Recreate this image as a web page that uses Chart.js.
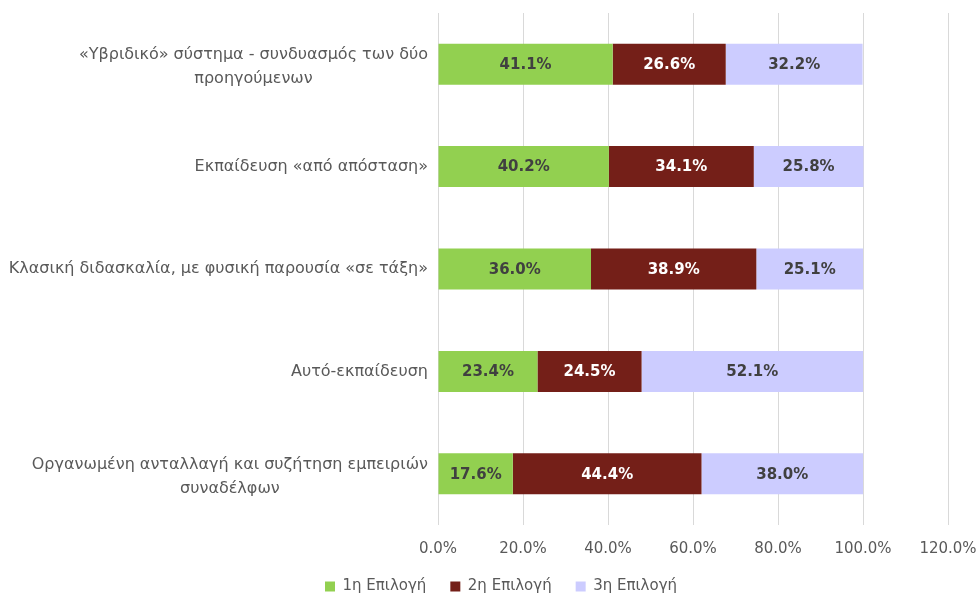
<!DOCTYPE html>
<html>
<head>
<meta charset="utf-8">
<script src="https://cdn.jsdelivr.net/npm/chart.js@4"></script>
<style>
  html, body { margin: 0; padding: 0; background: #fff; }
  #wrap { width: 978px; height: 596px; }
</style>
</head>
<body>
<div id="wrap"><canvas id="chart" width="978" height="596"></canvas></div>
<script>
const categories = [
    ['«Υβριδικό» σύστημα - συνδυασμός των δύο', 'προηγούμενων'],
    ['Εκπαίδευση «από απόσταση»'],
    ['Κλασική διδασκαλία, με φυσική παρουσία «σε τάξη»'],
    ['Αυτό-εκπαίδευση'],
    ['Οργανωμένη ανταλλαγή και συζήτηση εμπειριών', 'συναδέλφων']
]
const seriesNames = ['1η Επιλογή', '2η Επιλογή', '3η Επιλογή']
const choice1 = [41.1, 40.2, 36.0, 23.4, 17.6]
const choice2 = [26.6, 34.1, 38.9, 24.5, 44.4]
const choice3 = [32.2, 25.8, 25.1, 52.1, 38.0]
const xTicks = [0, 20, 40, 60, 80, 100, 120]

const colors = ['#92D050', '#741F18', '#CCCCFF']
const labelColors = ['#404040', '#FFFFFF', '#404040']
const fontFamily = '"DejaVu Sans", Tahoma, sans-serif'

// value labels in the middle of each bar segment
const barLabels = {
    id: 'barLabels',
    afterDatasetsDraw(chart) {
        const ctx = chart.ctx
        ctx.save()
        ctx.font = 'bold 15px ' + fontFamily
        ctx.textAlign = 'center'
        ctx.textBaseline = 'middle'
        chart.data.datasets.forEach((ds, i) => {
            chart.getDatasetMeta(i).data.forEach((bar, j) => {
                const p = bar.getProps(['x', 'base', 'y'], true)
                ctx.fillStyle = labelColors[i]
                ctx.fillText(ds.data[j].toFixed(1) + '%', (p.x + p.base) / 2, p.y + 1)
            })
        })
        ctx.restore()
    }
}

// category labels: right aligned block, lines centred inside it (like Excel)
const categoryLabels = {
    id: 'categoryLabels',
    afterDraw(chart) {
        const ctx = chart.ctx
        const y = chart.scales.y
        const right = chart.chartArea.left - 10
        ctx.save()
        ctx.font = '16px ' + fontFamily
        ctx.fillStyle = '#595959'
        ctx.textAlign = 'center'
        ctx.textBaseline = 'middle'
        categories.forEach((lines, i) => {
            const w = Math.max(...lines.map(l => ctx.measureText(l).width))
            const cx = right - w / 2
            const cy = y.getPixelForValue(i) + (lines.length > 1 ? 3 : 0)
            const lh = 24
            lines.forEach((l, k) => {
                ctx.fillText(l, cx, cy + (k - (lines.length - 1) / 2) * lh)
            })
        })
        ctx.restore()
    }
}

new Chart(document.getElementById('chart'), {
    type: 'bar',
    data: {
        labels: categories.map(c => c.join(' ')),
        datasets: [choice1, choice2, choice3].map((d, i) => ({
            label: seriesNames[i],
            data: d,
            backgroundColor: colors[i],
            borderWidth: 0,
            barPercentage: 0.8,
            categoryPercentage: 0.5
        }))
    },
    options: {
        indexAxis: 'y',
        responsive: false,
        animation: false,
        layout: { padding: { left: 24, right: 0, top: 13, bottom: -8 } },
        scales: {
            x: {
                stacked: true,
                min: 0,
                max: 120,
                afterBuildTicks: s => { s.ticks = xTicks.map(v => ({ value: v })) },
                afterFit: s => {
                    s.height = 30
                    s.paddingLeft = 0
                    s.paddingRight = 30
                },
                grid: { color: '#D9D9D9', lineWidth: 1, drawTicks: false },
                border: { display: false },
                ticks: {
                    padding: 15,
                    color: '#595959',
                    font: { family: fontFamily, size: 15 },
                    callback: v => v.toFixed(1) + '%'
                }
            },
            y: {
                stacked: true,
                grid: { display: false },
                border: { display: false },
                afterFit: s => { s.width = 414 },
                ticks: { display: false }
            }
        },
        plugins: {
            legend: {
                position: 'bottom',
                labels: {
                    boxWidth: 10,
                    boxHeight: 10,
                    padding: 24,
                    color: '#595959',
                    font: { family: fontFamily, size: 15 }
                }
            },
            tooltip: { enabled: false }
        }
    },
    plugins: [barLabels, categoryLabels]
})
</script>
</body>
</html>
